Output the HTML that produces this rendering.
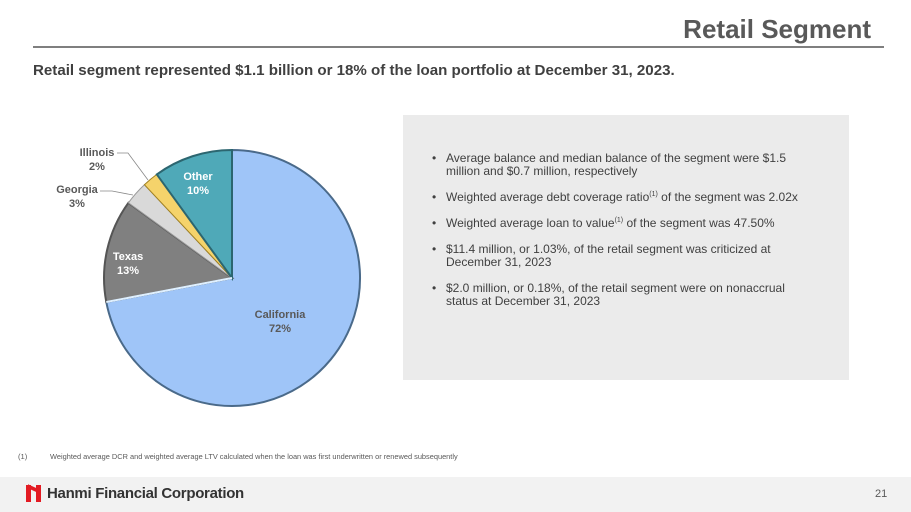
<!DOCTYPE html>
<html><head><style>
body{margin:0;width:911px;height:512px;background:#fff;font-family:"Liberation Sans",sans-serif;position:relative;overflow:hidden}
.a{position:absolute}
ul{margin:0;padding:0 0 0 16px;list-style:none}
li{position:relative;margin-bottom:13px;font-size:12px;color:#404040;line-height:13px}
li:before{content:"•";position:absolute;left:-14px}
sup{font-size:7px;line-height:0;vertical-align:5px}
</style></head><body>
<div class="a" style="right:40px;top:14px;font-size:26px;font-weight:bold;color:#595959">Retail Segment</div>
<div class="a" style="left:33px;top:46px;width:851px;height:2px;background:#7f7f7f"></div>
<div class="a" style="left:33px;top:62px;font-size:15.1px;font-weight:bold;color:#404040">Retail segment represented $1.1 billion or 18% of the loan portfolio at December 31, 2023.</div>
<svg class="a" style="left:0;top:0" width="911" height="512">
<path d="M232,150 A128,128 0 1,1 106.3,302 L232,278Z" fill="#9fc5f8" stroke="#4a6a8a" stroke-width="2"/>
<path d="M232,278 L106.3,302 A128,128 0 0,1 128.4,202.8Z" fill="#808080" stroke="#555" stroke-width="2"/>
<path d="M232,278 L128.4,202.8 A128,128 0 0,1 144.4,184.7Z" fill="#d9d9d9" stroke="#999" stroke-width="1"/>
<path d="M232,278 L144.4,184.7 A128,128 0 0,1 156.8,174.4Z" fill="#f5d36b" stroke="#a08020" stroke-width="1"/>
<path d="M232,278 L156.8,174.4 A128,128 0 0,1 232,150Z" fill="#4fa9b8" stroke="#2c6670" stroke-width="2"/>
<line x1="232" y1="278" x2="106.3" y2="302" stroke="#dff0ff" stroke-width="2"/>
<polyline points="117,153 128,153 148,180" fill="none" stroke="#888" stroke-width="0.8"/>
<polyline points="100,191 112,191 133,195" fill="none" stroke="#888" stroke-width="0.8"/>
<g font-size="11" font-weight="bold" text-anchor="middle">
<text x="97" y="156" fill="#595959">Illinois</text><text x="97" y="170" fill="#595959">2%</text>
<text x="77" y="193" fill="#595959">Georgia</text><text x="77" y="207" fill="#595959">3%</text>
<text x="198" y="180" fill="#fff">Other</text><text x="198" y="194" fill="#fff">10%</text>
<text x="128" y="260" fill="#fff">Texas</text><text x="128" y="274" fill="#fff">13%</text>
<text x="280" y="318" fill="#595959">California</text><text x="280" y="332" fill="#595959">72%</text>
</g>
</svg>
<div class="a" style="left:403px;top:115px;width:446px;height:265px;background:#ebebeb"></div>
<div class="a" style="left:430px;top:152px;width:390px">
<ul>
<li>Average balance and median balance of the segment were $1.5 million and $0.7 million, respectively</li>
<li>Weighted average debt coverage ratio<sup>(1)</sup> of the segment was 2.02x</li>
<li>Weighted average loan to value<sup>(1)</sup> of the segment was 47.50%</li>
<li>$11.4 million, or 1.03%, of the retail segment was criticized at December 31, 2023</li>
<li>$2.0 million, or 0.18%, of the retail segment were on nonaccrual status at December 31, 2023</li>
</ul></div>
<div class="a" style="left:18px;top:452px;font-size:7.6px;color:#595959">(1)</div>
<div class="a" style="left:50px;top:452px;font-size:7.4px;color:#595959">Weighted average DCR and weighted average LTV calculated when the loan was first underwritten or renewed subsequently</div>
<div class="a" style="left:0;top:477px;width:911px;height:35px;background:#f2f2f2"></div>
<div class="a" style="left:26px;top:485px;width:5px;height:17px;background:#e31b23"></div>
<div class="a" style="left:36px;top:485px;width:5px;height:17px;background:#e31b23"></div>
<div class="a" style="left:28px;top:487px;width:12px;height:4px;background:#e31b23;transform:skewY(25deg)"></div>
<div class="a" style="left:47px;top:485px;font-size:15px;font-weight:bold;color:#333;letter-spacing:-0.3px">Hanmi Financial Corporation</div>
<div class="a" style="left:875px;top:488px;font-size:11px;color:#595959">21</div>
</body></html>
